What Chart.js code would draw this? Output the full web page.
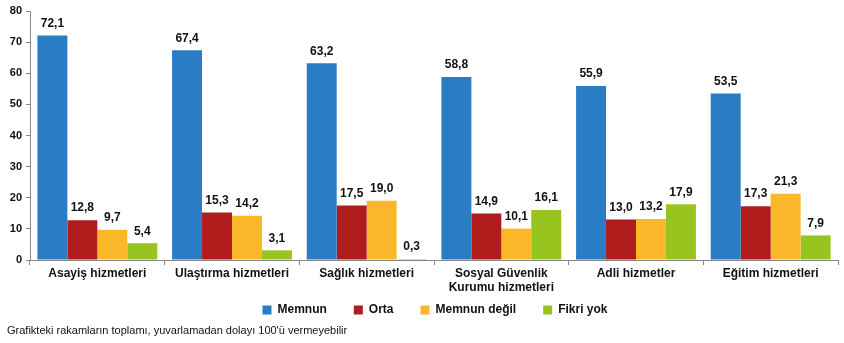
<!DOCTYPE html>
<html>
<head>
<meta charset="utf-8">
<script src="https://cdn.jsdelivr.net/npm/chart.js@4/dist/chart.umd.min.js"></script>
<style>
  html, body { margin: 0; padding: 0; background: #fff; }
  #kutu { position: relative; width: 844px; height: 343px; }
  #dipnot { position: absolute; left: 7px; top: 324px; font: 11px "Liberation Sans", Arial, sans-serif; color: #111; }
</style>
</head>
<body>
<div id="kutu">
  <canvas id="grafik" width="844" height="343"></canvas>
  <div id="dipnot">Grafikteki rakamların toplamı, yuvarlamadan dolayı 100'ü vermeyebilir</div>
</div>
<script>
const hizmetler = ["Asayiş hizmetleri", "Ulaştırma hizmetleri", "Sağlık hizmetleri", ["Sosyal Güvenlik", "Kurumu hizmetleri"], "Adli hizmetler", "Eğitim hizmetleri"];
const memnun = [72.1, 67.4, 63.2, 58.8, 55.9, 53.5];
const orta = [12.8, 15.3, 17.5, 14.9, 13.0, 17.3];
const memnunDegil = [9.7, 14.2, 19.0, 10.1, 13.2, 21.3];
const fikriYok = [5.4, 3.1, 0.3, 16.1, 17.9, 7.9];
const yTikleri = [0, 10, 20, 30, 40, 50, 60, 70, 80];

const yazi = "'Liberation Sans', Arial, sans-serif";

const degerEtiketleri = {
    id: "degerEtiketleri",
    afterLayout(chart) {
        // iki satirli etiket kesilmesin, lejant biraz saga
        chart.scales.x.bottom += 20;
        chart.legend.left += 16;
        chart.legend.right += 16;
    },
    afterDatasetsDraw(chart) {
        const ctx = chart.ctx;
        ctx.save();
        ctx.font = "bold 12px " + yazi;
        ctx.fillStyle = "#111";
        ctx.textAlign = "center";
        ctx.textBaseline = "bottom";
        chart.data.datasets.forEach((ds, i) => {
            chart.getDatasetMeta(i).data.forEach((bar, j) => {
                ctx.fillText(ds.data[j].toFixed(1).replace(".", ","), bar.x, bar.y - 6);
            });
        });
        ctx.restore();
    }
};

new Chart(document.querySelector("#grafik"), {
    type: "bar",
    data: {
        labels: hizmetler,
        datasets: [
            { label: "Memnun", data: memnun, backgroundColor: "#2a7dc5" },
            { label: "Orta", data: orta, backgroundColor: "#b01c1c" },
            { label: "Memnun değil", data: memnunDegil, backgroundColor: "#fbb72a" },
            { label: "Fikri yok", data: fikriYok, backgroundColor: "#98c41f" }
        ]
    },
    options: {
        responsive: false,
        animation: false,
        layout: { padding: { left: 0, right: 6, top: 11, bottom: 17 } },
        datasets: { bar: { categoryPercentage: 0.89, barPercentage: 1.0 } },
        plugins: {
            tooltip: { enabled: false },
            legend: {
                position: "bottom",
                labels: {
                    boxWidth: 9, boxHeight: 9, padding: 27,
                    color: "#111",
                    font: { family: yazi, size: 12, weight: "bold" }
                }
            }
        },
        scales: {
            x: {
                grid: { offset: true, drawOnChartArea: false, tickLength: 5, color: "#888" },
                border: { display: true, color: "#888" },
                ticks: { color: "#111", padding: 1, font: { family: yazi, size: 12, weight: "bold" } },
                afterFit(scale) { scale.height = 17; }
            },
            y: {
                min: 0, max: 80,
                afterBuildTicks(scale) { scale.ticks = yTikleri.map(v => ({ value: v })); },
                grid: { drawOnChartArea: false, tickLength: 4, color: "#888" },
                border: { display: true, color: "#888" },
                ticks: { color: "#111", padding: 4, font: { family: yazi, size: 11, weight: "bold" } },
                afterFit(scale) { scale.width = 30; }
            }
        }
    },
    plugins: [degerEtiketleri]
});
</script>
</body>
</html>
